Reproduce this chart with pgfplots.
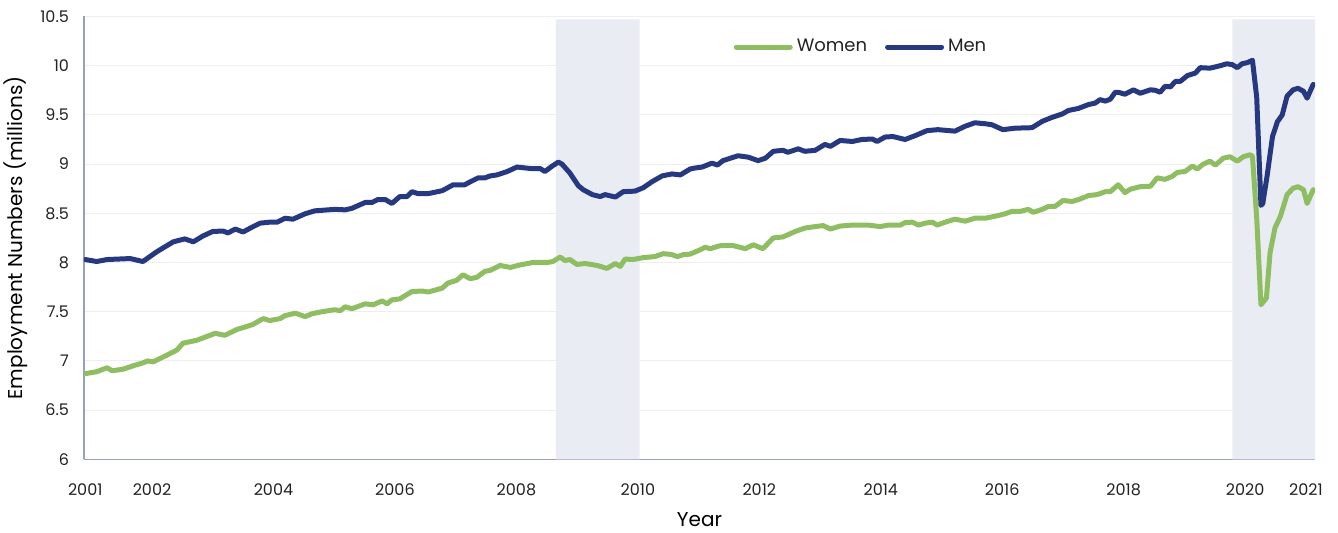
\documentclass[border=0pt]{standalone}
\usepackage{pgfplots}
\pgfplotsset{compat=1.18}
\usepackage{fontspec}
\setmainfont{Poppins}
\definecolor{men}{RGB}{38,57,128}
\definecolor{women}{RGB}{143,190,98}
\definecolor{shade}{RGB}{233,236,242}
\definecolor{axisc}{RGB}{150,160,195}
\definecolor{txt}{RGB}{34,34,34}
\definecolor{gridc}{RGB}{238,238,238}

\pgfplotstableread{
x y
2000.90 8.03
2001.09 8.01
2001.26 8.03
2001.64 8.04
2001.85 8.01
2002.08 8.11
2002.35 8.21
2002.54 8.24
2002.68 8.21
2002.84 8.27
2003.00 8.315
2003.17 8.32
2003.25 8.30
2003.37 8.34
2003.50 8.31
2003.65 8.36
2003.78 8.40
2003.94 8.41
2004.06 8.41
2004.19 8.45
2004.32 8.44
2004.52 8.495
2004.68 8.525
2005.01 8.54
2005.18 8.535
2005.29 8.55
2005.51 8.61
2005.62 8.61
2005.72 8.64
2005.84 8.64
2005.95 8.60
2006.08 8.67
2006.20 8.67
2006.28 8.72
2006.38 8.70
2006.55 8.70
2006.78 8.73
2006.87 8.76
2006.96 8.79
2007.15 8.79
2007.24 8.82
2007.37 8.86
2007.48 8.86
2007.57 8.88
2007.68 8.89
2007.85 8.925
2008.01 8.97
2008.23 8.955
2008.39 8.955
2008.47 8.925
2008.59 8.98
2008.69 9.02
2008.75 9.00
2008.88 8.91
2009.02 8.78
2009.10 8.74
2009.25 8.69
2009.38 8.67
2009.46 8.69
2009.63 8.665
2009.76 8.72
2009.95 8.725
2010.09 8.76
2010.23 8.82
2010.40 8.88
2010.56 8.90
2010.70 8.89
2010.86 8.95
2010.94 8.96
2011.06 8.97
2011.22 9.01
2011.31 8.99
2011.40 9.035
2011.65 9.085
2011.82 9.07
2011.98 9.035
2012.10 9.06
2012.23 9.13
2012.39 9.14
2012.47 9.12
2012.64 9.155
2012.75 9.13
2012.92 9.14
2013.08 9.20
2013.17 9.18
2013.33 9.24
2013.53 9.23
2013.69 9.25
2013.86 9.255
2013.94 9.23
2014.07 9.275
2014.20 9.28
2014.40 9.25
2014.57 9.29
2014.76 9.34
2014.94 9.35
2015.22 9.335
2015.39 9.385
2015.55 9.42
2015.72 9.41
2015.83 9.40
2016.01 9.35
2016.21 9.365
2016.49 9.37
2016.66 9.435
2016.82 9.475
2016.99 9.51
2017.09 9.545
2017.25 9.565
2017.42 9.605
2017.53 9.62
2017.61 9.655
2017.70 9.64
2017.78 9.66
2017.86 9.73
2017.91 9.73
2018.02 9.71
2018.16 9.755
2018.27 9.72
2018.44 9.755
2018.52 9.75
2018.60 9.73
2018.68 9.79
2018.77 9.785
2018.85 9.84
2018.93 9.84
2019.05 9.90
2019.18 9.925
2019.26 9.98
2019.42 9.975
2019.59 10.00
2019.70 10.02
2019.79 10.01
2019.87 9.98
2019.95 10.02
2020.03 10.03
2020.12 10.055
2020.19 9.68
2020.26 8.58
2020.29 8.60
2020.36 8.875
2020.45 9.28
2020.53 9.43
2020.61 9.50
2020.69 9.69
2020.79 9.755
2020.87 9.77
2020.96 9.74
2021.02 9.67
2021.12 9.81
}\mentable

\pgfplotstableread{
x y
2000.90 6.87
2001.09 6.89
2001.26 6.93
2001.34 6.90
2001.52 6.915
2001.69 6.95
2001.85 6.98
2001.93 7.00
2002.02 6.99
2002.25 7.06
2002.41 7.11
2002.51 7.18
2002.74 7.21
2002.91 7.25
2003.04 7.28
2003.20 7.26
2003.40 7.32
2003.56 7.35
2003.66 7.37
2003.83 7.43
2003.94 7.41
2004.11 7.43
2004.19 7.46
2004.36 7.485
2004.52 7.45
2004.64 7.48
2004.80 7.50
2005.01 7.52
2005.10 7.51
2005.18 7.55
2005.29 7.53
2005.51 7.58
2005.64 7.57
2005.79 7.61
2005.87 7.58
2005.95 7.62
2006.08 7.63
2006.28 7.705
2006.45 7.71
2006.55 7.70
2006.78 7.74
2006.87 7.79
2007.02 7.82
2007.12 7.875
2007.24 7.835
2007.35 7.85
2007.48 7.91
2007.57 7.92
2007.73 7.97
2007.90 7.95
2008.06 7.975
2008.27 8.00
2008.51 8.00
2008.60 8.01
2008.72 8.055
2008.80 8.02
2008.88 8.03
2009.00 7.98
2009.13 7.99
2009.33 7.97
2009.49 7.94
2009.63 7.99
2009.71 7.96
2009.79 8.035
2009.92 8.03
2010.09 8.05
2010.28 8.06
2010.42 8.09
2010.56 8.08
2010.65 8.06
2010.75 8.08
2010.86 8.085
2011.03 8.13
2011.11 8.155
2011.19 8.14
2011.35 8.17
2011.55 8.175
2011.77 8.14
2011.90 8.18
2012.06 8.14
2012.23 8.25
2012.39 8.26
2012.59 8.315
2012.75 8.35
2012.92 8.365
2013.05 8.375
2013.17 8.34
2013.33 8.37
2013.53 8.38
2013.79 8.38
2013.99 8.365
2014.12 8.38
2014.32 8.38
2014.40 8.405
2014.52 8.41
2014.62 8.38
2014.73 8.40
2014.85 8.41
2014.93 8.38
2015.06 8.41
2015.22 8.44
2015.39 8.42
2015.55 8.45
2015.72 8.45
2015.88 8.47
2016.05 8.495
2016.16 8.52
2016.30 8.52
2016.43 8.54
2016.51 8.51
2016.66 8.54
2016.76 8.57
2016.87 8.57
2017.00 8.63
2017.15 8.62
2017.28 8.645
2017.42 8.68
2017.56 8.69
2017.70 8.72
2017.78 8.72
2017.91 8.79
2018.02 8.71
2018.11 8.745
2018.27 8.77
2018.44 8.775
2018.55 8.86
2018.68 8.845
2018.80 8.875
2018.88 8.915
2019.01 8.925
2019.13 8.98
2019.21 8.95
2019.31 9.00
2019.42 9.03
2019.51 8.99
2019.64 9.06
2019.75 9.075
2019.87 9.03
2019.97 9.075
2020.08 9.095
2020.12 9.08
2020.19 8.45
2020.26 7.57
2020.35 7.64
2020.41 8.10
2020.49 8.35
2020.58 8.47
2020.69 8.69
2020.79 8.755
2020.87 8.77
2020.96 8.74
2021.02 8.60
2021.12 8.74
}\womentable

\begin{document}
\begin{tikzpicture}
\useasboundingbox (-42pt,-36.85pt) rectangle (627pt,229.65pt);
\begin{axis}[
  scale only axis, width=615.5pt, height=221.4pt,
  xmin=2000.88, xmax=2021.15, ymin=6, ymax=10.5,
  axis x line*=bottom, axis y line*=left,
  axis line style={axisc, line width=0.7pt, -},
  xtick={2000.9,2002,2004,2006,2008,2010,2012,2014,2016,2018,2020,2021},
  xticklabels={2001,2002,2004,2006,2008,2010,2012,2014,2016,2018,2020,2021},
  ytick={6,6.5,7,7.5,8,8.5,9,9.5,10,10.5},
  /pgf/number format/assume math mode=true,
  ymajorgrids, grid style={gridc, line width=0.5pt},
  major tick length=0pt,
  tick label style={font=\fontsize{8}{10}\selectfont, text=txt},
  xticklabel style={yshift=-8.5pt},
  yticklabel style={xshift=-4pt},
  xlabel={Year}, ylabel={Employment Numbers (millions)},
  label style={font=\fontsize{8.4}{10}\selectfont, text=txt},
  every axis x label/.style={at={(axis description cs:0.5,0)}, anchor=center, yshift=-30pt, inner sep=0pt},
  every axis y label/.style={at={(axis description cs:-0.0552,0.5)}, anchor=center, rotate=90, inner sep=0pt},
  legend style={at={(0.632,0.931)}, anchor=center, draw=none, fill=none,
    font=\fontsize{9}{11}\selectfont, text=txt,
    /tikz/every even column/.append style={column sep=7pt}},
  legend columns=2,
  legend image code/.code={\draw[#1, line width=2.5pt, line cap=round] (0pt,0pt) -- (27pt,0pt);},
]
\addplot[fill=shade, draw=none, forget plot] coordinates {(2008.65,6) (2010.03,6) (2010.03,10.47) (2008.65,10.47)} \closedcycle;
\addplot[fill=shade, draw=none, forget plot] coordinates {(2019.79,6) (2021.15,6) (2021.15,10.47) (2019.79,10.47)} \closedcycle;
\addplot[women, line width=2.5pt, line join=round, line cap=round] table[x=x,y=y] {\womentable};
\addlegendentry{Women}
\addplot[men, line width=2.5pt, line join=round, line cap=round] table[x=x,y=y] {\mentable};
\addlegendentry{Men}
\end{axis}
\end{tikzpicture}
\end{document}
